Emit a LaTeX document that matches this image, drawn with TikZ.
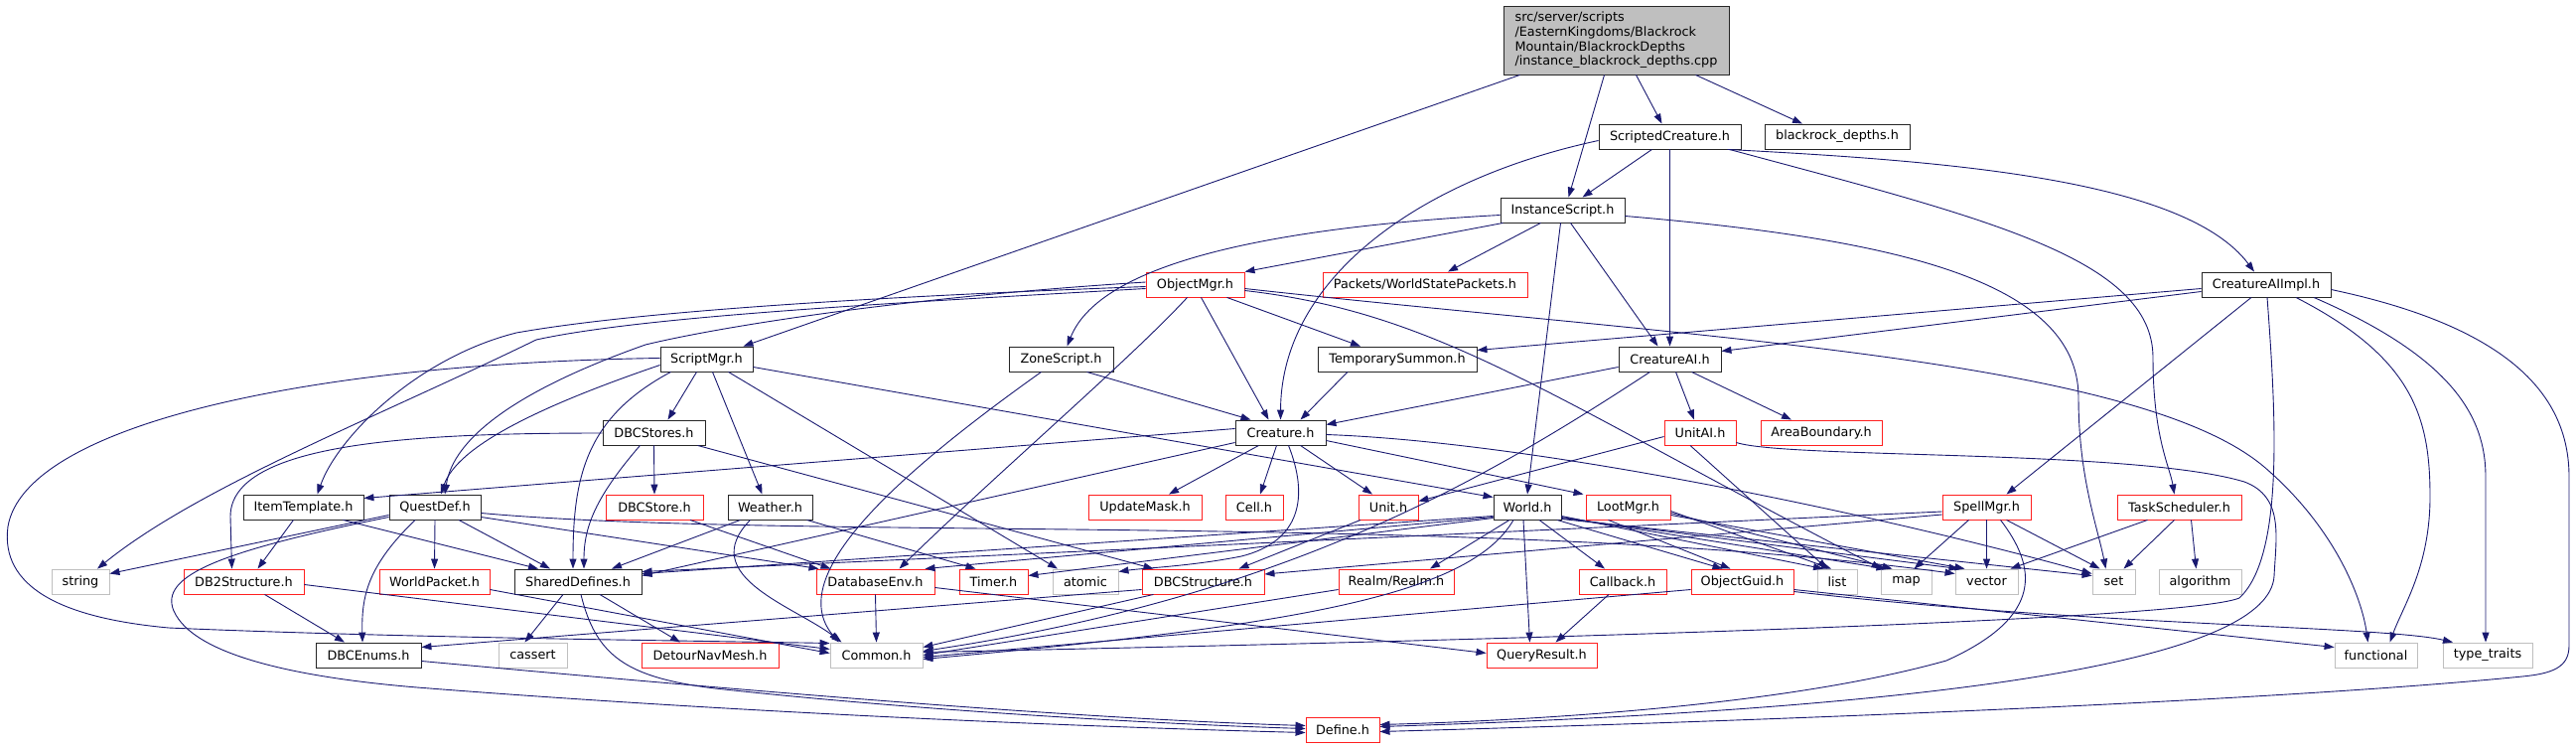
\documentclass[tikz,border=0pt]{standalone}
\usepackage{fontspec}
\newfontfamily\dxfont{DejaVu Sans}
\usetikzlibrary{arrows.meta}
\definecolor{midblue}{HTML}{191970}
\definecolor{grayb}{HTML}{BFBFBF}
\definecolor{dxred}{HTML}{FF2020}
\begin{document}
\begin{tikzpicture}[x=1pt,y=-1pt]
\tikzset{
 nd/.style={draw, fill=white, line width=0.9pt, inner sep=0pt, minimum height=25pt, font=\dxfont\fontsize{12.8}{14.7}\selectfont},
 nb/.style={nd, draw=black!85},
 nr/.style={nd, draw=dxred},
 ng/.style={nd, draw=grayb},
 nm/.style={nd, draw=black!85, fill=grayb, minimum height=69pt, align=left},
 lnk/.style={draw=midblue, line width=0.9pt, -{Triangle[length=10pt,width=7pt,fill=midblue]}},
}
\useasboundingbox (0,0) rectangle (2594,753);
% ---------- nodes ----------
\node[nm, minimum width=227pt] (main) at (1627.5,40.5) {src/server/scripts\\/EasternKingdoms/Blackrock\\Mountain/BlackrockDepths\\/instance\_blackrock\_depths.cpp};
\node[nb, minimum width=143pt] (sc) at (1681.5,137.5) {ScriptedCreature.h};
\node[nb, minimum width=146pt] (bd) at (1850,137.5) {blackrock\_depths.h};
\node[nb, minimum width=125pt] (is) at (1573.5,211.5) {InstanceScript.h};
\node[nr, minimum width=99pt] (om) at (1203.5,286.5) {ObjectMgr.h};
\node[nr, minimum width=206pt] (wsp) at (1435,286.5) {Packets/WorldStatePackets.h};
\node[nb, minimum width=130pt] (caii) at (2282,286.5) {CreatureAIImpl.h};
\node[nb, minimum width=93pt] (smgr) at (711.5,361.5) {ScriptMgr.h};
\node[nb, minimum width=105pt] (zs) at (1068.5,361.5) {ZoneScript.h};
\node[nb, minimum width=160pt] (ts) at (1407,361.5) {TemporarySummon.h};
\node[nb, minimum width=103pt] (cai) at (1681.5,361.5) {CreatureAI.h};
\node[nb, minimum width=103pt] (dbcs) at (658.5,435.5) {DBCStores.h};
\node[nb, minimum width=91pt] (cr) at (1289.5,435.5) {Creature.h};
\node[nr, minimum width=72pt] (uai) at (1712,435.5) {UnitAI.h};
\node[nr, minimum width=122pt] (ab) at (1834,435.5) {AreaBoundary.h};
\node[nb, minimum width=121pt] (it) at (305.5,510.5) {ItemTemplate.h};
\node[nb, minimum width=92pt] (qd) at (438,510.5) {QuestDef.h};
\node[nr, minimum width=98pt] (dbcst) at (659,510.5) {DBCStore.h};
\node[nb, minimum width=85pt] (we) at (775.5,510.5) {Weather.h};
\node[nr, minimum width=114pt] (um) at (1153,510.5) {UpdateMask.h};
\node[nr, minimum width=58pt] (cell) at (1263,510.5) {Cell.h};
\node[nr, minimum width=60pt] (unit) at (1398,510.5) {Unit.h};
\node[nb, minimum width=68pt] (world) at (1538,510.5) {World.h};
\node[nr, minimum width=85pt] (loot) at (1639.5,510.5) {LootMgr.h};
\node[nr, minimum width=89pt] (spell) at (2000.5,510.5) {SpellMgr.h};
\node[nr, minimum width=125pt] (task) at (2194.5,510.5) {TaskScheduler.h};
\node[ng, minimum width=58pt] (str) at (81,585.5) {string};
\node[nr, minimum width=121pt] (db2) at (245.5,585.5) {DB2Structure.h};
\node[nr, minimum width=111pt] (wp) at (437.5,585.5) {WorldPacket.h};
\node[nb, minimum width=128pt] (sd) at (582,585.5) {SharedDefines.h};
\node[nr, minimum width=119pt] (dbe) at (881.5,585.5) {DatabaseEnv.h};
\node[nr, minimum width=69pt] (timer) at (1000.5,585.5) {Timer.h};
\node[ng, minimum width=66pt] (atomic) at (1093,585.5) {atomic};
\node[nr, minimum width=123pt] (dbcstr) at (1211.5,585.5) {DBCStructure.h};
\node[nr, minimum width=116pt] (realm) at (1406,585.5) {Realm/Realm.h};
\node[nr, minimum width=88pt] (cb) at (1634,585.5) {Callback.h};
\node[nr, minimum width=103pt] (og) at (1754.5,585.5) {ObjectGuid.h};
\node[ng, minimum width=40pt] (nlist) at (1850,585.5) {list};
\node[ng, minimum width=51pt] (nmap) at (1919.5,585.5) {map};
\node[ng, minimum width=63pt] (nvec) at (2000.5,585.5) {vector};
\node[ng, minimum width=43pt] (nset) at (2128.5,585.5) {set};
\node[ng, minimum width=83pt] (alg) at (2215.5,585.5) {algorithm};
\node[nb, minimum width=106pt] (dbce) at (371,659.5) {DBCEnums.h};
\node[ng, minimum width=69pt] (cassert) at (536.5,659.5) {cassert};
\node[nr, minimum width=138pt] (detour) at (715,659.5) {DetourNavMesh.h};
\node[ng, minimum width=93pt] (common) at (882.5,659.5) {Common.h};
\node[nr, minimum width=111pt] (qr) at (1552.5,659.5) {QueryResult.h};
\node[ng, minimum width=83pt] (func) at (2392.5,659.5) {functional};
\node[ng, minimum width=90pt] (tt) at (2505,659.5) {type\_traits};
\node[nr, minimum width=74pt] (def) at (1352,734.5) {Define.h};
% ---------- edges ----------
% main
\draw[lnk] ([xshift=-97]main.south) -- ([xshift=37]smgr.north);
\draw[lnk] ([xshift=-12]main.south) -- ([xshift=6]is.north);
\draw[lnk] ([xshift=20]main.south) -- ([xshift=-8]sc.north);
\draw[lnk] ([xshift=80]main.south) -- ([xshift=-35]bd.north);
% ScriptedCreature
\draw[lnk] ([xshift=-18]sc.south) -- ([xshift=20]is.north);
\draw[lnk] ([yshift=-4]sc.west) .. controls (1430,180) and (1290,280) .. (cr.north);
\draw[lnk] (sc.south) -- (cai.north);
\draw[lnk] ([xshift=58]sc.south) .. controls (1960,162) and (2200,180) .. ([xshift=-12]caii.north);
\draw[lnk] ([xshift=60]sc.south) .. controls (2000,220) and (2168,260) .. (2168,360) .. controls (2168,440) and (2185,470) .. ([xshift=-5]task.north);
% InstanceScript
\draw[lnk] ([xshift=-60]is.south) -- ([xshift=50]om.north);
\draw[lnk] ([xshift=-22]is.south) -- ([xshift=23]wsp.north);
\draw[lnk] ([yshift=-5]is.west) .. controls (1300,228) and (1110,260) .. ([xshift=6]zs.north);
\draw[lnk] ([xshift=8]is.south) -- ([xshift=-12]cai.north);
\draw[lnk] ([xshift=-2]is.south) -- (world.north);
\draw[lnk] ([yshift=-6]is.east) .. controls (1900,240) and (2093,280) .. (2093,400) .. controls (2093,480) and (2112,530) .. ([xshift=-8]nset.north);
% ObjectMgr
\draw[lnk] ([yshift=-2]om.west) .. controls (900,298) and (650,312) .. (520,335) .. controls (420,360) and (340,440) .. ([xshift=14]it.north);
\draw[lnk] ([yshift=-4]om.west) .. controls (900,305) and (650,318) .. (540,342) .. controls (380,420) and (200,490) .. ([xshift=17]str.north);
\draw[lnk] ([yshift=2.5]om.west) .. controls (900,300) and (720,330) .. (650,347) .. controls (500,400) and (455,450) .. ([xshift=10]qd.north);
\draw[lnk] ([xshift=6]om.south) -- ([xshift=-12]cr.north);
\draw[lnk] ([xshift=32]om.south) -- ([xshift=-37]ts.north);
\draw[lnk] ([xshift=-8]om.south) .. controls (1140,360) and (1000,480) .. ([xshift=24]dbe.north);
\draw[lnk] ([yshift=-6]om.east) .. controls (1450,315) and (1560,400) .. ([xshift=-25]nmap.north);
\draw[lnk] ([yshift=-4]om.east) .. controls (1700,340) and (2150,360) .. (2280,470) .. controls (2350,530) and (2378,600) .. ([xshift=-8]func.north);
% CreatureAIImpl
\draw[lnk] ([yshift=-4]caii.west) -- ([yshift=9]ts.east);
\draw[lnk] ([yshift=-7]caii.west) -- ([yshift=8]cai.east);
\draw[lnk] ([xshift=-15]caii.south) -- ([xshift=20]spell.north);
\draw[lnk] ([xshift=1]caii.south) .. controls (2292,420) and (2300,560) .. (2255,602) .. controls (2200,625) and (1500,645) .. ([yshift=3]common.east);
\draw[lnk] ([xshift=30]caii.south) .. controls (2430,360) and (2447,420) .. (2447,500) .. controls (2447,570) and (2420,610) .. ([xshift=14]func.north);
\draw[lnk] ([xshift=48]caii.south) .. controls (2470,360) and (2503,420) .. (2503,480) -- ([xshift=-2]tt.north);
\draw[lnk] ([yshift=-5]caii.east) .. controls (2530,330) and (2587,400) .. (2587,480) -- (2587,650) .. controls (2587,672) and (2570,678) .. (2540,681) .. controls (2300,705) and (1800,725) .. ([yshift=-2]def.east);
% ScriptMgr
\draw[lnk] ([yshift=-6]smgr.west) .. controls (540,410) and (460,450) .. ([xshift=6]qd.north);
\draw[lnk] ([xshift=-36]smgr.south) .. controls (590,420) and (577,480) .. ([xshift=-5]sd.north);
\draw[lnk] ([xshift=-10]smgr.south) -- ([xshift=14]dbcs.north);
\draw[lnk] ([xshift=6]smgr.south) -- ([xshift=-8]we.north);
\draw[lnk] ([xshift=22]smgr.south) -- ([xshift=-28]atomic.north);
\draw[lnk] ([yshift=-8]smgr.east) -- ([yshift=10]world.west);
\draw[lnk] ([yshift=1]smgr.west) .. controls (300,366) and (25,430) .. (8,530) .. controls (0,590) and (60,622) .. (170,632) .. controls (400,642) and (700,645) .. ([yshift=12]common.west);
% DBCStores
\draw[lnk] ([yshift=-0.5]dbcs.west) .. controls (420,436) and (232,445) .. (232,520) -- ([xshift=-12]db2.north);
\draw[lnk] ([xshift=-14]dbcs.south) .. controls (600,500) and (588,530) .. ([xshift=6]sd.north);
\draw[lnk] (dbcs.south) -- (dbcst.north);
\draw[lnk] ([xshift=44]dbcs.south) -- ([xshift=-50]dbcstr.north);
% Weather, DBCStore
\draw[lnk] ([xshift=-30]we.south) -- ([xshift=34]sd.north);
\draw[lnk] ([xshift=-20]we.south) .. controls (700,580) and (800,610) .. ([xshift=-35]common.north);
\draw[lnk] ([xshift=37]we.south) -- ([xshift=-18]timer.north);
\draw[lnk] ([xshift=36]dbcst.south) -- ([xshift=-45]dbe.north);
% ItemTemplate
\draw[lnk] ([xshift=-10]it.south) -- ([xshift=14]db2.north);
\draw[lnk] ([xshift=40]it.south) -- ([xshift=-40]sd.north);
% QuestDef
\draw[lnk] ([yshift=-8]qd.west) -- ([yshift=8]str.east);
\draw[lnk] ([yshift=-10]qd.west) .. controls (220,555) and (160,580) .. (175,615) .. controls (195,660) and (300,682) .. (420,692) .. controls (750,718) and (1100,732) .. ([yshift=-3]def.west);
\draw[lnk] ([xshift=-20]qd.south) .. controls (370,570) and (364,600) .. ([xshift=-6]dbce.north);
\draw[lnk] (qd.south) -- (wp.north);
\draw[lnk] ([xshift=24]qd.south) -- ([xshift=-28]sd.north);
\draw[lnk] ([yshift=-10]qd.east) -- ([xshift=-57]dbe.north);
\draw[lnk] ([yshift=-6]qd.east) .. controls (800,545) and (1500,515) .. ([yshift=8]nvec.west);
% SharedDefines, DB2Structure, WorldPacket, DBCEnums
\draw[lnk] ([xshift=-15]sd.south) -- ([xshift=-8]cassert.north);
\draw[lnk] ([xshift=22]sd.south) -- ([xshift=-30]detour.north);
\draw[lnk] ([xshift=3]sd.south) .. controls (600,660) and (630,682) .. (720,693) .. controls (950,718) and (1200,730) .. ([yshift=1]def.west);
\draw[lnk] ([xshift=21]db2.south) -- ([xshift=-24]dbce.north);
\draw[lnk] ([yshift=-3]db2.east) -- ([yshift=6]common.west);
\draw[lnk] ([yshift=-8]wp.east) -- ([yshift=2]common.west);
\draw[lnk] ([yshift=-6]dbce.east) .. controls (800,700) and (1100,724) .. ([yshift=4]def.west);
% DatabaseEnv, DBCStructure, Realm
\draw[lnk] (dbe.south) -- (common.north);
\draw[lnk] ([yshift=-6]dbe.east) -- ([yshift=2]qr.west);
\draw[lnk] ([xshift=-50]dbcstr.south) -- ([yshift=8]common.east);
\draw[lnk] ([yshift=-8]dbcstr.west) -- ([yshift=8]dbce.east);
\draw[lnk] ([yshift=-8]realm.west) -- ([yshift=0]common.east);
% ZoneScript, TemporarySummon, CreatureAI
\draw[lnk] ([xshift=-20]zs.south) .. controls (900,480) and (790,580) .. ([xshift=-38]common.north);
\draw[lnk] ([xshift=26]zs.south) -- ([xshift=-30]cr.north);
\draw[lnk] ([xshift=-50]ts.south) -- ([xshift=20]cr.north);
\draw[lnk] ([yshift=-8]cai.west) -- ([yshift=8]cr.east);
\draw[lnk] ([xshift=6]cai.south) -- ([xshift=-6]uai.north);
\draw[lnk] ([xshift=22]cai.south) -- ([xshift=-30]ab.north);
\draw[lnk] ([xshift=-20]cai.south) .. controls (1500,480) and (1300,600) .. ([yshift=4]common.east);
% Creature
\draw[lnk] ([yshift=4]cr.west) -- ([yshift=9]it.east);
\draw[lnk] ([yshift=-10]cr.west) -- ([yshift=6]sd.east);
\draw[lnk] ([xshift=-22]cr.south) -- ([xshift=24]um.north);
\draw[lnk] ([xshift=-4]cr.south) -- ([xshift=6]cell.north);
\draw[lnk] ([xshift=20]cr.south) -- ([xshift=-16]unit.north);
\draw[lnk] ([yshift=-8]cr.east) -- ([xshift=-45]loot.north);
\draw[lnk] ([xshift=8]cr.south) .. controls (1318,500) and (1310,545) .. (1250,560) .. controls (1200,570) and (1150,572) .. ([yshift=10]atomic.east);
\draw[lnk] ([yshift=-2]cr.east) .. controls (1550,445) and (1900,520) .. ([yshift=8]nset.west);
% UnitAI, Unit
\draw[lnk] ([yshift=-4]uai.west) -- ([yshift=6]unit.east);
\draw[lnk] ([xshift=-10]uai.south) -- ([xshift=-10]nlist.north);
\draw[lnk] ([yshift=-10]uai.east) .. controls (1800,462) and (2150,452) .. (2260,485) .. controls (2300,500) and (2292,540) .. (2290,580) .. controls (2285,660) and (2000,712) .. ([yshift=3]def.east);
\draw[lnk] ([xshift=-28]unit.south) -- ([xshift=36]dbcstr.north);
% World
\draw[lnk] ([yshift=-9]world.west) -- ([yshift=8]sd.east);
\draw[lnk] ([yshift=-10]world.west) -- ([xshift=50]dbe.north);
\draw[lnk] ([yshift=-11]world.west) -- ([yshift=6]timer.east);
\draw[lnk] ([xshift=-18]world.south) -- ([xshift=34]realm.north);
\draw[lnk] ([xshift=-4]world.south) -- ([xshift=-12]qr.north);
\draw[lnk] ([xshift=12]world.south) -- ([xshift=-18]cb.north);
\draw[lnk] ([xshift=30]world.south) -- ([xshift=-20]og.north);
\draw[lnk] ([yshift=-9]world.east) -- ([xshift=-14]nlist.north);
\draw[lnk] ([yshift=-10]world.east) -- ([xshift=-20]nmap.north);
\draw[lnk] ([yshift=-11]world.east) -- ([xshift=-28]nvec.north);
\draw[lnk] ([yshift=-12]world.east) -- ([yshift=6]nset.west);
\draw[lnk] ([xshift=-14]world.south) .. controls (1480,600) and (1300,630) .. ([yshift=-4]common.east);
% LootMgr
\draw[lnk] ([xshift=-20]loot.south) -- ([xshift=-12]og.north);
\draw[lnk] ([yshift=-4]loot.east) -- ([xshift=-6]nlist.north);
\draw[lnk] ([yshift=-6]loot.east) -- ([xshift=-14]nmap.north);
\draw[lnk] ([yshift=-8]loot.east) -- ([xshift=-22]nvec.north);
% SpellMgr
\draw[lnk] ([xshift=-18]spell.south) -- ([xshift=8]nmap.north);
\draw[lnk] (spell.south) -- (nvec.north);
\draw[lnk] ([xshift=20]spell.south) -- ([xshift=-14]nset.north);
\draw[lnk] ([xshift=14]spell.south) .. controls (2050,570) and (2060,620) .. (1960,665) .. controls (1800,710) and (1550,725) .. ([yshift=5]def.east);
\draw[lnk] ([yshift=-4.5]spell.west) -- ([yshift=10]sd.east);
\draw[lnk] ([yshift=-7.5]spell.west) -- ([yshift=7.5]dbcstr.east);
% TaskScheduler
\draw[lnk] ([xshift=-32]task.south) -- ([xshift=24]nvec.north);
\draw[lnk] ([xshift=-5]task.south) -- ([xshift=10]nset.north);
\draw[lnk] ([xshift=12]task.south) -- ([xshift=-4]alg.north);
% Callback, ObjectGuid
\draw[lnk] ([xshift=-14]cb.south) -- ([xshift=14]qr.north);
\draw[lnk] ([yshift=-8]og.west) -- ([yshift=-2]common.east);
\draw[lnk] ([yshift=-8]og.east) -- ([yshift=8]func.west);
\draw[lnk] ([yshift=-10]og.east) .. controls (2100,630) and (2400,630) .. ([xshift=-35]tt.north);
\end{tikzpicture}
\end{document}
